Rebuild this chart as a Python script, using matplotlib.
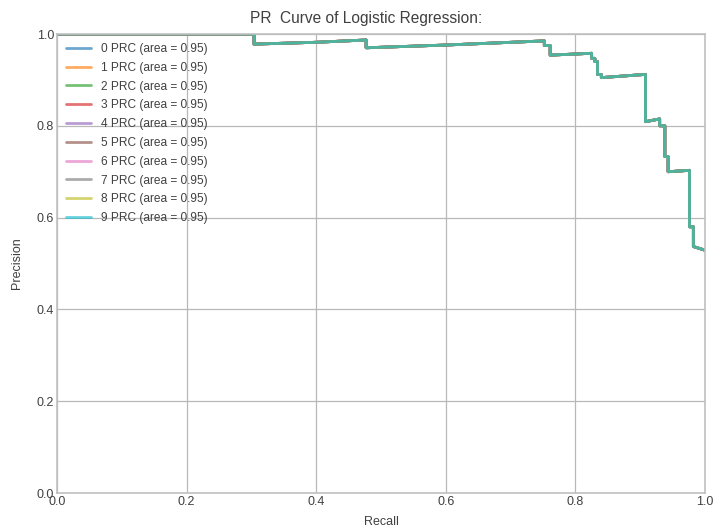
import numpy as np
import matplotlib
matplotlib.use("Agg")
import matplotlib.pyplot as plt

plt.style.use("seaborn-v0_8-whitegrid")
plt.rcParams["font.family"] = ["Liberation Sans", "DejaVu Sans"]
plt.rcParams["text.color"] = "#404040"
plt.rcParams["axes.labelcolor"] = "#404040"
plt.rcParams["xtick.color"] = "#404040"
plt.rcParams["ytick.color"] = "#404040"

# precision/recall points of the logistic regression model (same curve for every class)
recall = [0.0, 0.304, 0.304, 0.40, 0.477, 0.477, 0.60, 0.752, 0.752, 0.761, 0.761,
          0.825, 0.825, 0.830, 0.830, 0.834, 0.834, 0.840, 0.840, 0.908, 0.908,
          0.930, 0.930, 0.938, 0.938, 0.943, 0.943, 0.976, 0.976, 0.982, 0.982, 1.0]
precision = [1.0, 1.0, 0.978, 0.982, 0.987, 0.970, 0.976, 0.985, 0.975, 0.975, 0.954,
             0.958, 0.947, 0.947, 0.940, 0.940, 0.912, 0.912, 0.905, 0.912, 0.809,
             0.815, 0.800, 0.800, 0.733, 0.733, 0.700, 0.703, 0.580, 0.580, 0.537, 0.529]
classes = list(range(10))
areas = [0.95] * 10

fig = plt.figure(figsize=(7.17, 5.29), dpi=100)
ax = fig.add_axes([0.0795, 0.068, 0.9038, 0.8677])

for c, a in zip(classes, areas):
    ax.plot(recall, precision, lw=2, alpha=0.65, label=f"{c} PRC (area = {a:.2f})")

ax.set_xlim(0.0, 1.0)
ax.set_ylim(0.0, 1.0)
ax.set_xlabel("Recall", fontsize=9, labelpad=6)
ax.set_ylabel("Precision", fontsize=9, labelpad=10)
ax.set_title("PR  Curve of Logistic Regression:", fontsize=11.2, pad=8, x=0.477)
ax.tick_params(labelsize=9, pad=2)
for s in ax.spines.values():
    s.set_color("#c0c0c0")
    s.set_linewidth(1.2)
ax.grid(color="#b8b8b8", linewidth=0.9)
ax.legend(loc="upper left", fontsize=8.6, frameon=False, handlelength=2.1,
          handletextpad=0.85, labelspacing=0.57, borderaxespad=0.35)

fig.savefig("out.png", dpi=100)
